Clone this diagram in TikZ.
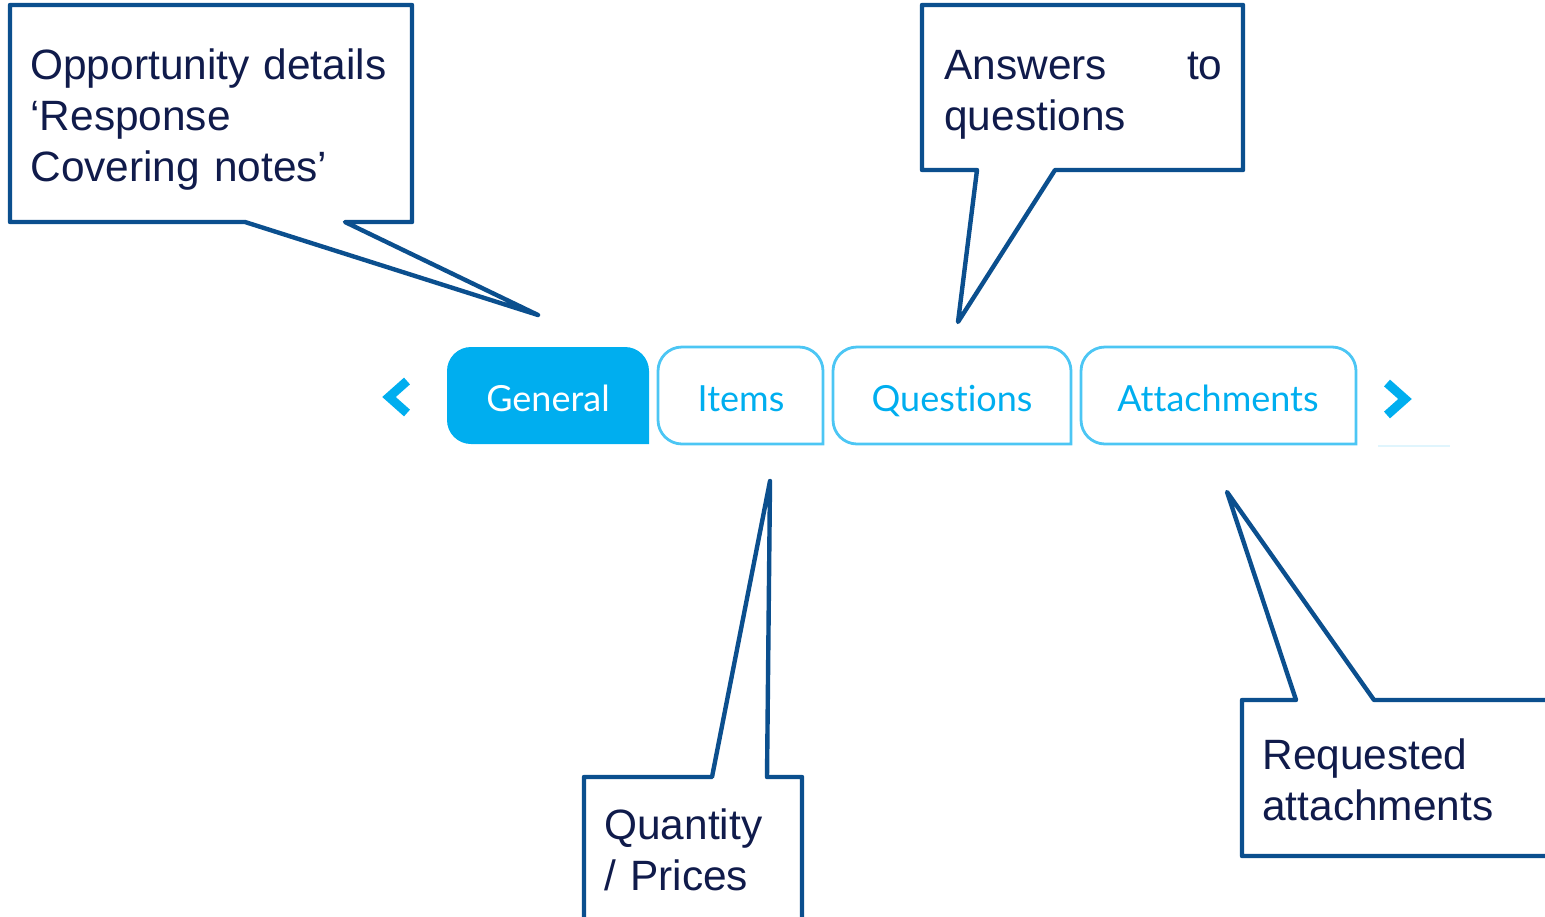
\documentclass[tikz,border=0pt]{standalone}
\usepackage{fontspec}
\setmainfont{Liberation Sans}
\newfontfamily\ongletfont[Ligatures=NoCommon]{Lato}
\definecolor{bleubulle}{HTML}{0B4F8E}
\definecolor{encre}{HTML}{101B4B}
\definecolor{cyanonglet}{HTML}{00AEEF}

\begin{document}
\begin{tikzpicture}[x=0.5pt, y=-0.5pt,
    bulle/.style={draw=bleubulle, line width=2.2pt, line join=round, fill=white},
    legende/.style={anchor=base west, inner sep=0pt, text=encre, align=left,
        font=\fontsize{21.2}{25.5}\selectfont},
    onglet/.style={draw=cyanonglet!70, line width=1.4pt},
    etiquette/.style={anchor=base, inner sep=0pt, text=cyanonglet,
        font=\ongletfont\fontsize{18}{20}\selectfont},
    chevron/.style={draw=cyanonglet, line width=4.5pt, line join=miter}]

        \useasboundingbox (0,0) rectangle (1545,916);
        \clip (0,0) rectangle (1545,916);

        %% ── Barre d'onglets ────────────────────────────────────────────────
        \fill[cyanonglet] (548,444) -- (649,444) -- (649,440)
            [rounded corners=12] -- (649,347) -- (447,347) -- (447,444) -- cycle;
        \draw[onglet] (740,444) -- (823,444) -- (823,440)
            [rounded corners=12] -- (823,347) -- (658,347) -- (658,444) -- cycle;
        \draw[onglet] (952,444) -- (1071,444) -- (1071,440)
            [rounded corners=12] -- (1071,347) -- (833,347) -- (833,444) -- cycle;
        \draw[onglet] (1218,444) -- (1356,444) -- (1356,440)
            [rounded corners=12] -- (1356,347) -- (1081,347) -- (1081,444) -- cycle;
        \draw[cyanonglet!12, line width=0.8pt] (1378,446) -- (1450,446);

        \node[etiquette, text=white] (general) at (548,411) {General};
        \node[etiquette] (items) at (741,411) {Items};
        \node[etiquette] (questions) at (952,411) {Questions};
        \node[etiquette] (attachments) at (1218,411) {Attachments};

        %% ── Flèches de défilement ──────────────────────────────────────────
        \draw[chevron] (407,381) -- (389,397) -- (407,413);
        \draw[chevron] (1387,383) -- (1405,399) -- (1387,415);

        %% ── Bulle : détails de l'opportunité ───────────────────────────────
        \coordinate (pointe general) at (538,315);
        \draw[bulle] (10,5) -- (412,5) -- (412,222) -- (345,222)
            -- (pointe general) -- (245,222) -- (10,222) -- cycle;
        \node[legende, text width=190pt] (details) at (30,79)
            {Opportunity details\\‘Response\\Covering notes’};

        %% ── Bulle : réponses aux questions ─────────────────────────────────
        \coordinate (pointe questions) at (958,322);
        \draw[bulle] (922,5) -- (1243,5) -- (1243,170) -- (1055,170)
            -- (pointe questions) -- (977,170) -- (922,170) -- cycle;
        \node[legende, text width=139pt] (reponses) at (944,79)
            {Answers\hfill to\\questions};

        %% ── Bulle : quantités et prix ──────────────────────────────────────
        \coordinate (pointe items) at (770,481);
        \draw[bulle] (584,777) -- (712,777) -- (pointe items) -- (767,777)
            -- (802,777) -- (802,940) -- (584,940) -- cycle;
        \node[legende, text width=100pt] (quantite) at (604,839)
            {Quantity\\/ Prices};

        %% ── Bulle : pièces jointes demandées ───────────────────────────────
        \coordinate (pointe attachments) at (1227,492);
        \draw[bulle] (1242,700) -- (1296,700) -- (pointe attachments)
            -- (1374,700) -- (1570,700) -- (1570,856) -- (1242,856) -- cycle;
        \node[legende, text width=140pt] (pieces) at (1262,769)
            {Requested\\attachments};

    \end{tikzpicture}
\end{document}
